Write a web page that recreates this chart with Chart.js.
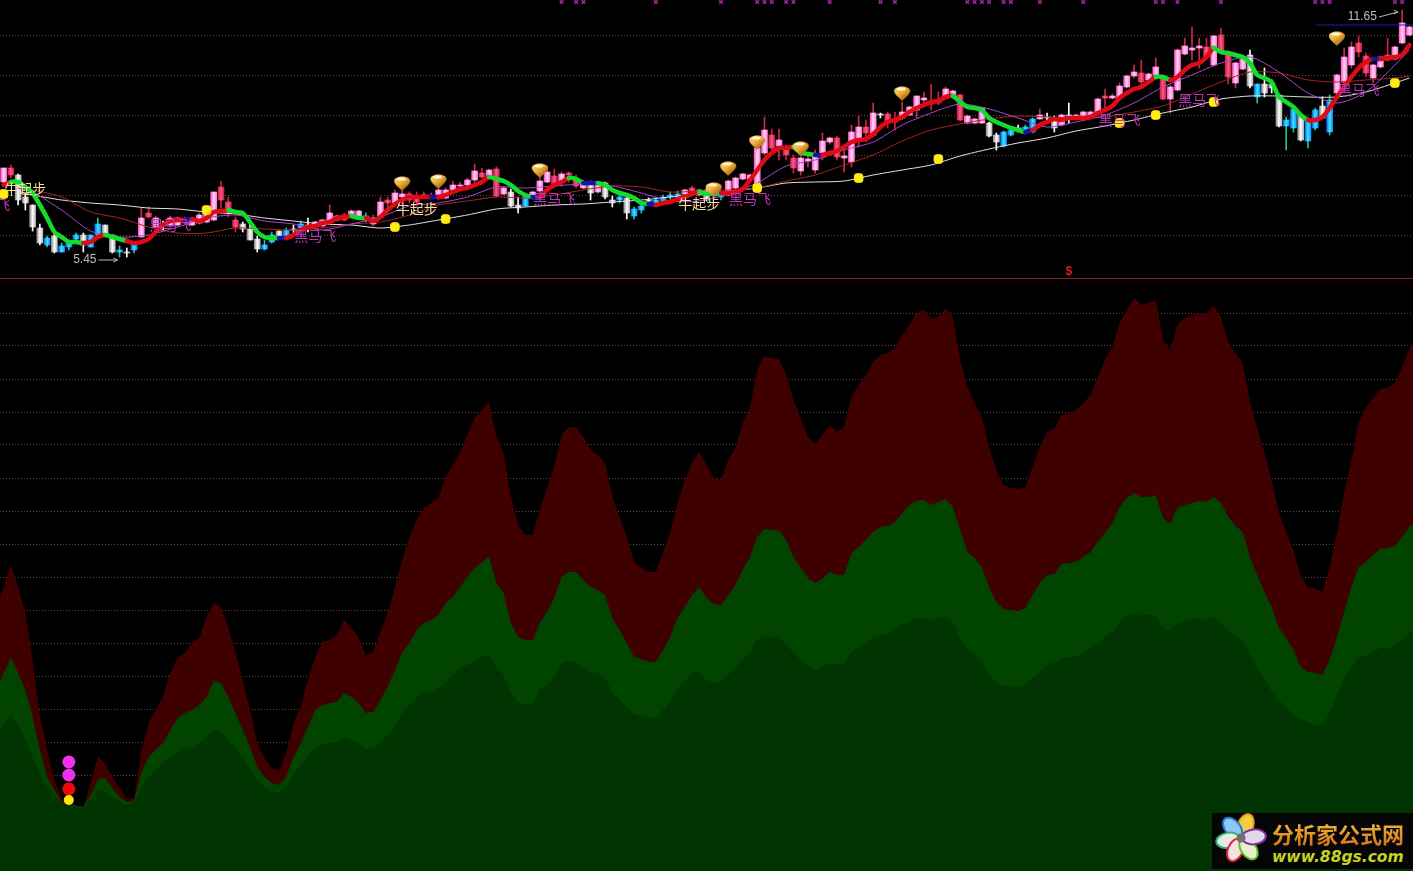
<!DOCTYPE html>
<html>
<head>
<meta charset="utf-8">
<title>K线 资金流</title>
<script src="https://cdn.jsdelivr.net/npm/chart.js@4/dist/chart.umd.min.js"></script>
<style>
    html, body { margin: 0; padding: 0; background: #000; overflow: hidden; }
    #stage { position: relative; width: 1413px; height: 871px; background: #000; overflow: hidden; }
    #priceBox { position: absolute; left: 0; top: 0; width: 1413px; height: 278px; }
    #flowBox { position: absolute; left: 0; top: 279px; width: 1413px; height: 592px; }
    #divider { position: absolute; left: 0; top: 278px; width: 1413px; height: 1px; background: #a01620; }
    #logo { position: absolute; left: 1212px; top: 813px; width: 201px; height: 56px; background: #050505; }
    #logo svg { position: absolute; left: 1px; top: 0; }
    #logoName { position: absolute; left: 60px; top: 6px; font: bold 22px "Noto Sans CJK SC"; line-height: 28px; white-space: nowrap;
        background: linear-gradient(#f2c23a, #d8701c); -webkit-background-clip: text; background-clip: text; color: transparent; }
    #logoUrl { position: absolute; left: 60px; top: 35px; font: italic bold 15.5px "DejaVu Sans"; line-height: 18px; color: #c6d422; white-space: nowrap; }
</style>
</head>
<body>
<div id="stage">
    <div id="priceBox"><canvas id="priceChart" width="1413" height="278"></canvas></div>
    <div id="divider"></div>
    <div id="flowBox"><canvas id="flowChart" width="1413" height="592"></canvas></div>
    <div id="logo">
        <svg width="58" height="56" viewBox="0 0 58 56">
            <g transform="translate(28,25)">
                <ellipse cx="0" cy="-13" rx="7.5" ry="12" fill="#f0d040" stroke="#e8a020" stroke-width="2" transform="rotate(20)"/>
                <ellipse cx="0" cy="-13" rx="7.5" ry="12" fill="#8ec8f0" stroke="#2080e0" stroke-width="2" transform="rotate(-40)"/>
                <ellipse cx="0" cy="-13" rx="7.5" ry="12" fill="#e8e8e8" stroke="#30b070" stroke-width="2" transform="rotate(-100)"/>
                <ellipse cx="0" cy="-13" rx="7.5" ry="12" fill="#f4e4e0" stroke="#e02838" stroke-width="2" transform="rotate(-155)"/>
                <ellipse cx="0" cy="-13" rx="7.5" ry="12" fill="#e8f0c8" stroke="#60c030" stroke-width="2" transform="rotate(145)"/>
                <ellipse cx="0" cy="-13" rx="7.5" ry="12" fill="#e0d8e8" stroke="#8030a0" stroke-width="2" transform="rotate(85)"/>
                <circle r="4.5" fill="#707070"/>
            </g>
        </svg>
        <div id="logoName">分析家公式网</div>
        <div id="logoUrl">www.88gs.com</div>
    </div>
</div>
<script>
// All levels below are heights on each panel's own hidden axis.
// Candles, one entry per bar (195 bars): p pink, r red, w white, b blue
const candleKinds = [
    'prwwwwbwbb', 'bwbbwwbwbp', 'rpwpprpppp', 'rrrwwwbbwb', 'wbwpppprpp',
    'bpprpprrpp', 'pppppprprp', 'wwbppprprr', 'pwpwwbwbbw', 'bbbbprpwbb',
    'pppppprprr', 'ppppprpppr', 'pwrrpppprr', 'pprpppwwbb', 'wbbpwwpwpp',
    'pprpppprpp', 'rppppprprr', 'ppwbwwwbbw', 'bbwbppprrp', 'prppp'
].join('').split('');

const bodyHighs = [
    110,110,103,81,73,50,40,42,32,36,
    43,43,43,54,53,43,28,26,35,60,
    65,60,53,60,60,59,57,63,66,86,
    91,76,58,54,49,39,33,43,47,48,
    49,54,53,56,58,65,62,63,67,67,
    62,60,76,78,85,84,84,80,83,82,
    88,88,93,93,98,107,105,108,109,90,
    86,73,82,86,97,106,102,104,105,99,
    94,93,93,95,78,81,80,69,72,78,
    78,81,83,84,88,90,88,88,85,84,
    97,100,104,103,130,148,143,138,131,120,
    120,119,121,137,140,140,122,146,151,151,
    165,164,164,158,166,171,182,180,175,178,
    189,187,183,162,159,170,155,143,146,148,
    150,151,159,163,161,160,163,163,163,166,
    166,179,182,182,192,202,206,205,204,211,
    201,191,228,232,230,232,231,242,243,226,
    215,219,223,194,194,194,183,158,169,163,
    158,168,172,178,203,221,231,235,222,213,
    221,223,231,255,251
];
const bodyLows = [
    96,103,78,75,51,35,33,26,26,31,
    39,33,31,43,43,26,26,25,28,41,
    61,51,52,52,53,55,53,55,56,58,
    78,65,51,49,38,29,29,36,42,42,
    48,50,52,51,52,57,58,58,62,62,
    58,54,61,75,75,81,78,76,81,80,
    80,80,88,92,93,98,101,101,82,84,
    72,70,72,80,87,96,92,96,103,92,
    90,85,86,81,75,78,65,62,68,77,
    75,77,81,81,84,87,83,78,82,81,
    83,90,99,99,90,125,130,132,123,110,
    107,117,108,121,136,121,120,116,138,145,
    143,163,155,156,160,163,168,178,174,175,
    180,183,158,155,155,155,142,136,132,143,
    149,149,146,159,160,150,153,162,159,161,
    162,165,180,180,180,191,202,196,198,203,
    179,179,188,224,228,230,221,213,226,201,
    195,209,192,181,185,190,152,152,150,138,
    137,150,160,146,185,196,213,226,205,200,
    211,218,219,235,243
];
const wickHighs = [
    110,113,104,85,73,54,42,45,35,38,
    45,45,43,60,53,43,32,30,36,70,
    71,62,57,62,61,61,59,65,70,86,
    97,81,61,56,56,42,38,46,47,50,
    53,57,60,57,59,73,63,65,68,68,
    65,63,81,81,88,88,86,86,86,85,
    91,90,97,96,100,114,110,109,111,91,
    89,81,82,87,103,112,109,106,106,103,
    98,97,94,96,82,82,84,71,73,80,
    81,83,86,87,89,92,89,89,87,86,
    98,101,105,104,132,161,149,149,133,123,
    123,123,128,145,141,142,128,153,162,158,
    175,165,166,166,176,172,182,186,194,186,
    191,188,184,163,160,171,156,145,147,149,
    153,153,160,169,165,162,164,175,164,167,
    167,180,189,184,195,203,213,218,205,220,
    202,193,229,240,251,240,240,243,250,227,
    216,220,228,194,210,198,183,161,170,164,
    160,170,181,183,204,230,236,242,225,214,
    222,240,232,268,252
];
const wickLows = [
    94,100,73,68,47,33,31,25,26,28,
    36,26,31,43,43,25,21,21,25,41,
    60,50,47,51,52,54,52,54,55,57,
    70,61,46,46,38,26,28,35,41,38,
    43,48,46,50,51,56,57,57,61,61,
    56,52,60,68,71,74,75,72,80,79,
    78,79,87,90,92,93,100,100,81,83,
    71,65,72,79,85,95,90,92,96,90,
    89,78,85,79,71,75,59,59,65,73,
    73,75,78,77,83,86,82,77,80,78,
    82,89,98,98,89,123,128,118,118,105,
    103,111,105,118,134,118,106,111,131,136,
    141,160,150,148,158,162,160,171,168,173,
    179,182,157,154,154,154,141,128,131,142,
    146,146,145,159,156,146,152,155,158,160,
    161,164,168,179,178,190,200,190,197,201,
    178,165,187,223,218,210,220,212,225,194,
    190,208,190,175,181,185,151,128,146,137,
    130,148,160,143,184,193,210,221,201,195,
    210,217,218,234,242
];

// Thick trend line and the colour runs along it
const trendLine = [
    93,96,96,91,85,73,60,46,41,36,
    36,35,36,41,43,41,39,37,35,36,
    39,46,53,57,58,58,59,57,60,66,
    67,68,66,65,56,46,41,40,40,40,
    43,48,51,52,55,56,60,61,62,60,
    60,57,61,68,74,78,81,81,81,81,
    81,83,86,89,90,93,96,101,99,97,
    93,87,83,81,81,88,93,96,100,99,
    95,95,95,93,88,85,83,80,75,74,
    73,75,76,79,81,84,86,84,85,85,
    85,86,89,98,108,118,125,130,130,131,
    125,124,123,123,125,127,131,136,138,139,
    144,151,156,158,161,166,170,173,176,177,
    181,182,176,171,170,168,160,156,153,150,
    148,146,148,153,156,159,158,160,160,160,
    161,165,168,172,180,185,189,191,196,201,
    201,198,201,208,213,215,221,230,226,225,
    223,221,215,203,200,196,181,176,171,163,
    158,158,161,170,181,191,201,210,216,219,
    219,220,221,223,233
];
const trendRuns = [
    ['r',2],['g',10],['r',3],['g',3],['r',8],['b',1],['r',5],['g',7],['b',1],['r',9],
    ['g',2],['r',9],['b',1],['r',7],['g',6],['b',1],['r',4],['g',2],['b',2],['g',7],
    ['b',1],['r',6],['g',3],['r',10],['g',3],['b',1],['r',18],['g',10],['b',1],['r',17],
    ['g',2],['r',6],['g',13],['r',9],['b',1],['r',4]
];

// Thin moving averages, read every few bars
const thinBars = [
    2,4,8,12,16,20,24,28,32,36,40,44,48,52,56,60,64,68,72,76,80,84,88,92,96,
    100,104,108,112,116,120,124,128,132,136,140,144,148,152,156,160,164,168,172,176,180,184,188,192,194
];
const whiteLine = [
    87,83,78,75,73,70,69,66,64,60,57,54,53,50,53,58,63,69,71,73,74,76,78,81,84,
    87,90,95,96,97,103,108,113,122,129,135,140,147,152,158,165,171,179,182,182,181,181,186,195,200
];
const purpleLine = [
    90,86,68,47,41,43,51,60,63,57,54,48,54,61,72,75,81,91,90,92,94,92,85,77,77,
    84,95,112,118,128,136,153,165,174,169,160,151,156,163,175,191,203,215,221,206,185,175,186,213,228
];
const brownLine = [
    90,88,81,66,60,51,45,45,50,49,48,50,54,56,63,73,77,81,80,83,88,92,91,86,87,
    88,90,97,103,113,123,137,148,154,159,162,161,160,161,166,172,184,196,206,205,198,196,198,200,202
];

// Price panel markers
const yellowBars = [0, 28, 54, 61, 104, 118, 129, 154, 159, 167, 192];
const yellowLevels = [84, 68, 51, 59, 90, 100, 119, 155, 163, 176, 195];
const goldBars = [55, 60, 74, 98, 100, 104, 110, 124, 184];
const goldLevels = [95, 97, 108, 89, 110, 136, 130, 185, 240];
const crossBars = [77,79,80,90,99,104,105,106,108,109,114,121,123,133,134,135,136,138,139,143,149,159,160,162,168,181,182,183,192,193];
const crossLevel = 276;
const highLineBars = [181, 194.5];
const highLineLevel = 253;

const niuText = '牛起步';
const niuBars = [3, 57, 96];
const niuLevels = [89, 69, 74];
const heimaText = '黑马飞';
const heimaBars = [-2, 23, 43, 76, 103, 154, 165, 187];
const heimaLevels = [73, 53, 42, 79, 79, 158, 178, 188];
const noteTexts = ['5.45', '11.65'];
const noteBars = [9.6, 185.5];
const noteLevels = [18, 261];
const noteRises = [0, 5];
const dollarBar = 147;
const dollarLevel = 6;

const priceGrid = [242, 203, 163, 123, 83, 43];
const priceMax = 278;

// Lower panel: three filled series, first and last entries lie just past the window edges
const redFlow = [
    261,284,306,284,259,211,156,121,91,73,68,
    66,64,88,114,108,94,83,72,73,119,
    148,161,174,198,213,218,228,233,254,268,
    264,244,218,191,161,128,113,103,101,118,
    148,164,191,214,229,231,236,251,243,233,
    216,219,239,258,284,311,334,351,363,368,
    373,394,406,419,436,453,461,469,434,418,
    374,346,336,336,361,383,404,436,444,444,
    434,421,416,408,374,354,334,309,303,299,
    299,318,339,368,391,408,419,406,393,391,
    411,423,448,464,501,515,513,512,496,471,
    453,434,427,436,446,439,444,474,486,496,
    509,516,518,523,536,546,558,561,553,554,
    563,554,511,484,468,454,424,401,386,383,
    382,384,404,424,439,442,456,458,461,468,
    476,494,511,524,548,561,573,566,568,571,
    531,521,546,553,556,558,558,565,554,529,
    518,508,469,443,418,391,358,339,321,294,
    284,283,279,304,338,378,411,448,464,473,
    482,483,488,504,523,531
];
const greenFlow = [
    181,198,213,198,181,154,121,94,81,69,68,
    65,64,76,91,93,83,74,69,70,98,
    114,121,128,141,153,158,161,166,174,190,
    188,174,158,141,124,104,94,88,86,94,
    114,128,144,161,166,168,169,178,174,168,
    158,159,171,184,201,218,228,241,248,251,
    256,268,274,284,294,303,309,314,288,278,
    248,234,231,231,248,259,273,294,299,299,
    291,284,281,276,253,241,228,214,212,209,
    209,221,234,253,264,276,284,273,267,266,
    276,286,301,314,334,342,341,340,331,314,
    303,293,288,292,299,296,296,318,324,331,
    339,344,345,349,358,366,370,371,366,369,
    372,364,341,319,313,304,284,269,262,261,
    260,263,276,288,296,297,307,308,309,314,
    319,329,338,348,364,373,378,374,374,376,
    353,347,363,366,368,370,369,374,368,354,
    345,339,314,296,279,264,243,233,221,204,
    199,198,196,211,234,259,284,304,309,316,
    322,323,325,334,344,351
];
const darkFlow = [
    136,148,156,146,131,114,98,84,76,69,66,
    64,63,71,81,79,74,69,66,68,84,
    94,101,108,114,119,123,124,128,134,141,
    139,131,123,114,103,91,84,79,78,84,
    96,106,116,123,126,128,129,134,131,128,
    122,123,129,136,146,158,166,173,178,179,
    183,189,196,203,206,211,214,216,204,196,
    178,169,167,167,181,186,194,208,210,209,
    204,199,198,193,179,171,164,157,155,153,
    153,161,171,183,189,198,198,191,188,189,
    196,203,211,219,231,235,234,234,226,218,
    211,205,201,204,208,207,208,219,224,228,
    234,235,237,241,246,249,253,253,250,253,
    254,249,231,221,216,211,196,189,185,185,
    184,186,193,199,206,208,213,214,215,218,
    223,228,234,239,249,255,258,255,256,256,
    243,239,248,250,251,253,251,254,249,241,
    236,231,216,204,193,179,171,164,156,153,
    148,146,146,158,176,193,204,213,216,219,
    223,223,225,231,239,241
];
const flowBars = redFlow.map((_, i) => i - 1);

// Signal stack near the first trough
const signalBar = 9;
const signalLevels = [109, 96, 82, 71];

const flowGrid = [558, 525, 492, 459, 426, 393, 360, 327, 294, 261, 228, 195, 162, 129, 96];
const flowMax = 592;

const barRange = { min: -0.5, max: 194.5 };
const trendColors = { r: '#e00a14', g: '#12dc2c', b: '#1414a8' };
const wickColors = { p: '#c82c50', r: '#d02040', w: '#ffffff', b: '#2cc090' };
const bodyStops = {
    p: ['#ff5cc8', '#ffd2f6', '#ff80da'],
    r: ['#c81c50', '#ff5c78', '#c81c50'],
    w: ['#8c8c8c', '#ffffff', '#b4b4b4'],
    b: ['#0070f0', '#40e4ff', '#0098ff']
};
const gridColor = 'rgb(104, 68, 68)';

// Little gold ingot used as a point style
function makeGoldIcon() {
    const icon = document.createElement('canvas');
    icon.width = 18;
    icon.height = 16;
    const c = icon.getContext('2d');
    const fill = c.createLinearGradient(0, 0, 12, 16);
    fill.addColorStop(0, '#ffe9a0');
    fill.addColorStop(0.55, '#eeb038');
    fill.addColorStop(1, '#9c5c14');
    c.fillStyle = fill;
    c.beginPath();
    c.moveTo(1, 6);
    c.bezierCurveTo(1, 0, 17, 0, 17, 6);
    c.bezierCurveTo(17, 9, 12, 13, 9, 16);
    c.bezierCurveTo(6, 13, 1, 9, 1, 6);
    c.closePath();
    c.fill();
    c.fillStyle = '#fff6d0';
    c.beginPath();
    c.ellipse(8, 4, 4.5, 1.6, 0, 0, Math.PI * 2);
    c.fill();
    return icon;
}

function bodyFill(ctx) {
    const stops = bodyStops[candleKinds[ctx.dataIndex]];
    if (!stops) return '#ffd2f6';
    const xScale = ctx.chart.scales.x;
    const mid = xScale ? xScale.getPixelForValue(ctx.dataIndex) : NaN;
    // Chart.js may ask before the scales have their size
    if (!Number.isFinite(mid)) return stops[1];
    const fill = ctx.chart.ctx.createLinearGradient(mid - 3, 0, mid + 3, 0);
    fill.addColorStop(0, stops[0]);
    fill.addColorStop(0.5, stops[1]);
    fill.addColorStop(1, stops[2]);
    return fill;
}

function expandRuns(runs) {
    const out = [];
    runs.forEach(([kind, count]) => {
        for (let i = 0; i < count; i++) out.push(kind);
    });
    return out;
}

function hiddenAxes(yMax, gridLevels) {
    return {
        x: { type: 'linear', display: false, min: barRange.min, max: barRange.max, offset: false },
        y: {
            type: 'linear',
            min: 0,
            max: yMax,
            afterBuildTicks: scale => { scale.ticks = gridLevels.map(value => ({ value })); },
            ticks: { display: false },
            grid: { color: gridColor, lineWidth: 1, drawTicks: false },
            border: { display: false, dash: [1, 2] }
        }
    };
}

const baseOptions = {
    responsive: false,
    animation: false,
    events: [],
    layout: { padding: 0, autoPadding: false },
    plugins: { legend: { display: false }, tooltip: { enabled: false } }
};

// Text labels and small arrows of the price panel
const pricePanelText = {
    id: 'pricePanelText',
    afterDatasetsDraw(chart) {
        const { ctx, scales: { x, y } } = chart;
        ctx.save();
        ctx.textBaseline = 'middle';
        ctx.textAlign = 'center';

        ctx.font = '14px "Noto Sans CJK SC"';
        ctx.fillStyle = '#b838b8';
        heimaBars.forEach((bar, i) => {
            ctx.fillText(heimaText, x.getPixelForValue(bar), y.getPixelForValue(heimaLevels[i]));
        });
        ctx.fillStyle = '#f8dc9c';
        niuBars.forEach((bar, i) => {
            ctx.fillText(niuText, x.getPixelForValue(bar), y.getPixelForValue(niuLevels[i]));
        });

        ctx.font = 'bold 12px "Liberation Sans"';
        ctx.fillStyle = '#c82028';
        ctx.fillText('$', x.getPixelForValue(dollarBar), y.getPixelForValue(dollarLevel));

        ctx.textAlign = 'left';
        ctx.font = '12px "Liberation Sans"';
        ctx.fillStyle = '#bcbcbc';
        ctx.strokeStyle = '#bcbcbc';
        ctx.lineWidth = 1;
        noteTexts.forEach((text, i) => {
            const left = x.getPixelForValue(noteBars[i]);
            const mid = y.getPixelForValue(noteLevels[i]);
            ctx.fillText(text, left, mid);
            const fromX = left + ctx.measureText(text).width + 2;
            const toX = fromX + 19;
            const toY = mid - noteRises[i];
            ctx.beginPath();
            ctx.moveTo(fromX, mid);
            ctx.lineTo(toX, toY);
            ctx.moveTo(toX - 4, toY - 2);
            ctx.lineTo(toX, toY);
            ctx.lineTo(toX - 4, toY + 2);
            ctx.stroke();
        });
        ctx.restore();
    }
};

const trendKinds = expandRuns(trendRuns);
const allBars = candleKinds.map((_, i) => i);
const thinLine = (values, color) => ({
    type: 'line',
    data: thinBars.map((bar, i) => ({ x: bar, y: values[i] })),
    borderColor: color,
    borderWidth: 1,
    pointRadius: 0,
    tension: 0.25
});
const markerSet = (barsList, levels, extra) => ({
    type: 'line',
    showLine: false,
    clip: false,
    data: barsList.map((bar, i) => ({ x: bar, y: levels[i] })),
    ...extra
});

// First datasets end up on top when Chart.js paints
new Chart(document.getElementById('priceChart'), {
    type: 'bar',
    data: {
        datasets: [
            markerSet(goldBars, goldLevels, { pointStyle: makeGoldIcon(), pointRadius: 9 }),
            markerSet(yellowBars, yellowLevels, {
                pointStyle: 'rectRounded', pointRadius: 5, pointBackgroundColor: '#ffec10', pointBorderColor: '#ffec10'
            }),
            markerSet(crossBars, crossBars.map(() => crossLevel), {
                pointStyle: 'crossRot', pointRadius: 2.5, pointBorderColor: '#a028a0', pointBorderWidth: 1.5
            }),
            {
                type: 'line',
                data: allBars.map(i => ({ x: i, y: trendLine[i] })),
                borderWidth: 4.5,
                borderCapStyle: 'round',
                borderJoinStyle: 'round',
                pointRadius: 0,
                tension: 0.2,
                segment: { borderColor: seg => trendColors[trendKinds[seg.p1DataIndex]] }
            },
            thinLine(purpleLine, '#a848d0'),
            thinLine(brownLine, '#a82420'),
            thinLine(whiteLine, '#e4e4e4'),
            {
                type: 'line',
                data: highLineBars.map(bar => ({ x: bar, y: highLineLevel })),
                borderColor: '#1c1cb4',
                borderWidth: 1,
                pointRadius: 0
            },
            {
                data: allBars.map(i => ({ x: i, y: [bodyLows[i], bodyHighs[i]] })),
                backgroundColor: bodyFill,
                barThickness: 6,
                grouped: false
            },
            {
                data: allBars.map(i => ({ x: i, y: [wickLows[i], wickHighs[i]] })),
                backgroundColor: ctx => wickColors[candleKinds[ctx.dataIndex]] || '#c82c50',
                barThickness: 1,
                grouped: false
            }
        ]
    },
    options: { ...baseOptions, scales: hiddenAxes(priceMax, priceGrid) },
    plugins: [pricePanelText]
});

const flowSeries = (values, color) => ({
    data: values.map((v, i) => ({ x: flowBars[i], y: v })),
    borderColor: color,
    backgroundColor: color,
    borderWidth: 0,
    pointRadius: 0,
    fill: 'start'
});

new Chart(document.getElementById('flowChart'), {
    type: 'line',
    data: {
        datasets: [
            {
                showLine: false,
                data: signalLevels.map(level => ({ x: signalBar, y: level })),
                pointStyle: 'circle',
                pointRadius: [6.5, 6.5, 6.5, 5],
                pointBackgroundColor: ['#f030f0', '#f030f0', '#f00808', '#ffe810'],
                pointBorderWidth: 0
            },
            flowSeries(darkFlow, '#003400'),
            flowSeries(greenFlow, '#004400'),
            flowSeries(redFlow, '#3f0000')
        ]
    },
    options: { ...baseOptions, scales: hiddenAxes(flowMax, flowGrid) }
});
</script>
</body>
</html>
